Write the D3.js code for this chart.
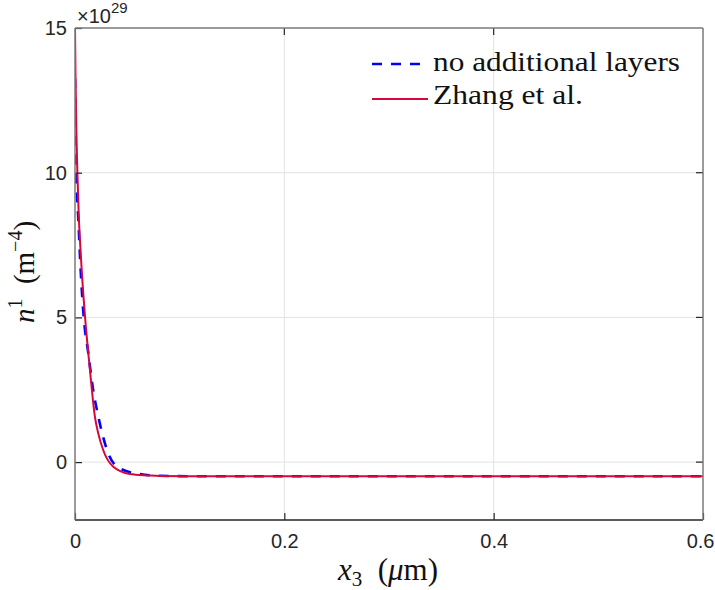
<!DOCTYPE html>
<html>
<head>
<meta charset="utf-8">
<script src="https://cdn.jsdelivr.net/npm/d3@7"></script>
<style>
  html, body { margin: 0; padding: 0; background: #fff; }
  svg { display: block; }
</style>
</head>
<body>
<svg id="chart" width="715" height="590"></svg>
<script>
// ---- data (x3 in µm, n^1 in units of 1e29 m^-4) ----
const seriesNames = ["no additional layers", "Zhang et al."];
const blueX = [0, 0.001, 0.0032, 0.0054, 0.0086, 0.0127, 0.0169, 0.0223, 0.0318, 0.043, 0.062, 0.081, 0.12, 0.3, 0.6];
const blueY = [13.26, 10.1, 8.37, 6.64, 4.9, 3.77, 2.6, 1.57, 0.3, -0.22, -0.41, -0.47, -0.49, -0.49, -0.49];
const redX = [0, 0.0005, 0.0012, 0.0022, 0.0035, 0.005, 0.0064, 0.0096, 0.0143, 0.019, 0.0225, 0.027, 0.0366, 0.0525, 0.07, 0.081, 0.12, 0.3, 0.6];
const redY = [15, 13.3, 11.6, 10.1, 8.6, 7.5, 6.64, 5.02, 3.18, 1.57, 0.95, 0.41, -0.16, -0.41, -0.46, -0.48, -0.49, -0.49, -0.49];
const xTicks = [0, 0.2, 0.4, 0.6];
const xTickLabels = ["0", "0.2", "0.4", "0.6"];
const yTicks = [0, 5, 10, 15];
const yTickLabels = ["0", "5", "10", "15"];
const xDomain = [0, 0.6];
const yDomain = [-2, 15];

const svg = d3.select("#chart");
const L = 75, R = 703, T = 28, B = 520;
const x = d3.scaleLinear().domain(xDomain).range([L, R]);
const y = d3.scaleLinear().domain(yDomain).range([B, T]);

const axisCol = "#262626";
const gridCol = "#e3e3e3";
const sans = "'Liberation Sans', Arial, sans-serif";

// grid
const g = svg.append("g");
g.selectAll(".gx").data(xTicks.filter(d => d > 0 && d < 0.6)).enter().append("line")
  .attr("x1", d => x(d)).attr("x2", d => x(d)).attr("y1", T).attr("y2", B)
  .attr("stroke", gridCol).attr("stroke-width", 1);
g.selectAll(".gy").data(yTicks.filter(d => d < 15)).enter().append("line")
  .attr("x1", L).attr("x2", R).attr("y1", d => y(d)).attr("y2", d => y(d))
  .attr("stroke", gridCol).attr("stroke-width", 1);

// clip
svg.append("clipPath").attr("id", "clip").append("rect")
  .attr("x", L).attr("y", T).attr("width", R - L).attr("height", B - T);

const line = d3.line().x(d => x(d[0])).y(d => y(d[1])).curve(d3.curveMonotoneX);
const blueData = blueX.map((v, i) => [v, blueY[i]]);
const redData = redX.map((v, i) => [v, redY[i]]);

const plot = svg.append("g").attr("clip-path", "url(#clip)");
plot.append("path").datum(blueData).attr("d", line)
  .attr("fill", "none").attr("stroke", "#0000ff").attr("stroke-width", 2.6)
  .attr("stroke-dasharray", "10,9");
plot.append("path").datum(redData).attr("d", line)
  .attr("fill", "none").attr("stroke", "#d6083b").attr("stroke-width", 2);

// axes via d3
const xAxis = d3.axisBottom(x).tickValues(xTicks).tickFormat((d, i) => xTickLabels[i]).tickSizeInner(-7).tickSizeOuter(0).tickPadding(14);
const yAxis = d3.axisLeft(y).tickValues(yTicks).tickFormat((d, i) => yTickLabels[i]).tickSizeInner(-7).tickSizeOuter(0).tickPadding(16);
const xa = svg.append("g").attr("transform", `translate(0,${B})`).call(xAxis);
const ya = svg.append("g").attr("transform", `translate(${L},0)`).call(yAxis);
[xa, ya].forEach(a => {
  a.attr("font-size", 20).attr("font-family", sans);
  a.select(".domain").remove();
  a.selectAll("line").attr("stroke", axisCol).attr("stroke-width", 1.2);
  a.selectAll("text").attr("fill", axisCol).attr("font-size", 20).attr("font-family", sans);
});
xa.selectAll("text").attr("dy", "0.71em");
xa.selectAll("text").filter(d => d === 0.6).attr("text-anchor", "end").attr("x", 11);
ya.selectAll("text").attr("x", -8);
// top and right ticks
svg.append("g").selectAll("line").data(xTicks.filter(d => d > 0 && d < 0.6)).enter().append("line")
  .attr("x1", d => x(d)).attr("x2", d => x(d)).attr("y1", T).attr("y2", T + 7).attr("stroke", axisCol).attr("stroke-width", 1.2);
svg.append("g").selectAll("line").data(yTicks.filter(d => d < 15)).enter().append("line")
  .attr("x1", R - 7).attr("x2", R).attr("y1", d => y(d)).attr("y2", d => y(d)).attr("stroke", axisCol).attr("stroke-width", 1.2);

// frame
svg.append("line").attr("x1", L).attr("x2", R).attr("y1", B).attr("y2", B).attr("stroke", axisCol).attr("stroke-width", 1.5);
svg.append("line").attr("x1", L).attr("x2", L).attr("y1", T).attr("y2", B).attr("stroke", "#7a7a7a").attr("stroke-width", 1.5);
svg.append("line").attr("x1", R).attr("x2", R).attr("y1", T).attr("y2", B).attr("stroke", "#7a7a7a").attr("stroke-width", 1.5);
svg.append("line").attr("x1", L).attr("x2", R).attr("y1", T).attr("y2", T).attr("stroke", "#7a7a7a").attr("stroke-width", 1.5);

// exponent label
const ex = svg.append("text").attr("x", 77).attr("y", 23).attr("fill", axisCol)
  .attr("font-family", sans).attr("font-size", 20);
ex.append("tspan").text("×10");
ex.append("tspan").attr("dy", -10).attr("font-size", 15).text("29");

// axis labels
const serif = "'Liberation Serif', 'Times New Roman', serif";
const xl = svg.append("text").attr("x", 388).attr("y", 580).attr("text-anchor", "middle")
  .attr("font-family", serif).attr("font-size", 31).attr("fill", "#111");
xl.append("tspan").attr("font-style", "italic").text("x");
xl.append("tspan").attr("dy", 6).attr("font-size", 21).text("3");
xl.append("tspan").attr("dy", -6).text("\u2002(");
xl.append("tspan").attr("font-style", "italic").text("μ");
xl.append("tspan").text("m)");

const yl = svg.append("text").attr("transform", `translate(34,272) rotate(-90)`).attr("text-anchor", "middle")
  .attr("font-family", serif).attr("font-size", 29).attr("fill", "#111");
yl.append("tspan").attr("font-style", "italic").text("n");
yl.append("tspan").attr("dy", -12).attr("font-size", 20).text("1");
yl.append("tspan").attr("dy", 12).text("\u2002(m");
yl.append("tspan").attr("dy", -12).attr("font-size", 20).text("−4");
yl.append("tspan").attr("dy", 12).text(")");

// legend
const leg = svg.append("g");
leg.append("line").attr("x1", 372).attr("x2", 422).attr("y1", 64).attr("y2", 64)
  .attr("stroke", "#0000ff").attr("stroke-width", 2.6).attr("stroke-dasharray", "10,9");
leg.append("line").attr("x1", 372).attr("x2", 428).attr("y1", 99).attr("y2", 99)
  .attr("stroke", "#d6083b").attr("stroke-width", 2);
leg.append("text").attr("x", 433).attr("y", 71).text(seriesNames[0])
  .attr("font-family", serif).attr("font-size", 28).attr("fill", "#111")
  .attr("textLength", 247).attr("lengthAdjust", "spacingAndGlyphs");
leg.append("text").attr("x", 433).attr("y", 104).text(seriesNames[1])
  .attr("font-family", serif).attr("font-size", 28).attr("fill", "#111")
  .attr("textLength", 150).attr("lengthAdjust", "spacingAndGlyphs");
</script>
</body>
</html>
